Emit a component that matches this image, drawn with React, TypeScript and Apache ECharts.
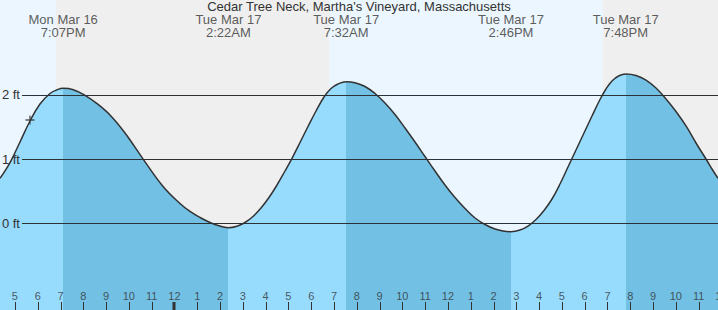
import { useEffect, useRef } from 'react';
import * as echarts from 'echarts';

const TITLE = "Cedar Tree Neck, Martha's Vineyard, Massachusetts";

// Time in hours since Mon Mar 16 00:00, tide height in feet
const tideHours = [
  16.345, 16.784, 17.223, 17.661, 18.1, 18.539, 18.846, 19.117,
  19.561, 20.075, 20.588, 21.172, 21.83, 22.633, 23.51, 24.243, 24.682, 25.121, 25.56, 25.911, 26.367,
  26.744, 27.095, 27.446, 27.797, 28.148, 28.5, 28.85, 29.158, 29.509, 29.86, 30.211, 30.562, 30.869, 31.176, 31.533,
  31.922, 32.361, 32.8, 33.238, 33.677, 34.116, 34.555, 34.993, 35.432, 35.871, 36.31, 36.749, 37.188, 37.626, 38.065, 38.416, 38.767,
  39.162, 39.513, 39.864, 40.216, 40.566, 40.917, 41.268, 41.619, 41.97, 42.321, 42.672, 42.935, 43.199, 43.506, 43.8,
  44.252, 44.691, 45.13, 45.569, 46.007, 46.446, 46.885, 47.324, 47.587, 47.85,
];
const tideFeet = [
  0.698, 0.945, 1.266, 1.594, 1.859, 2.023, 2.081, 2.105,
  2.083, 1.995, 1.87, 1.688, 1.406, 0.995, 0.567, 0.305, 0.18, 0.086, 0.008, -0.039, -0.073,
  -0.05, 0.008, 0.102, 0.234, 0.398, 0.594, 0.8125, 1.011, 1.258, 1.508, 1.75, 1.969, 2.102, 2.172, 2.208,
  2.191, 2.133, 2.023, 1.875, 1.695, 1.484, 1.266, 1.039, 0.8125, 0.594, 0.398, 0.227, 0.078, -0.023, -0.094, -0.125, -0.136,
  -0.109, -0.047, 0.055, 0.195, 0.375, 0.609, 0.875, 1.141, 1.406, 1.672, 1.93, 2.094, 2.219, 2.3, 2.328,
  2.305, 2.234, 2.109, 1.938, 1.742, 1.516, 1.25, 1.0, 0.844, 0.698,
];

const extremeHours = [19.117, 26.367, 31.533, 38.767, 43.8];
const extremeKinds = ['H', 'L', 'H', 'L', 'H'];
const extremeDays = ['Mon Mar 16', 'Tue Mar 17', 'Tue Mar 17', 'Tue Mar 17', 'Tue Mar 17'];
const extremeTimes = ['7:07PM', '2:22AM', '7:32AM', '2:46PM', '7:48PM'];

const nightStarts = [18.8, 42.8];
const nightEnds = [30.78, 48];

const hourTicks = [
  17, 18, 19, 20, 21, 22, 23, 24, 25, 26, 27, 28, 29, 30, 31, 32,
  33, 34, 35, 36, 37, 38, 39, 40, 41, 42, 43, 44, 45, 46, 47, 48,
];
const hourLabels = [
  '5', '6', '7', '8', '9', '10', '11', '12', '1', '2', '3', '4', '5', '6', '7', '8',
  '9', '10', '11', '12', '1', '2', '3', '4', '5', '6', '7', '8', '9', '10', '11', '12',
];
const midnightHours = [24, 48];
const gridLevels = [0, 1, 2];
const nowHour = 17.66;
const nowFeet = 1.61;

// view window
const X_MIN = 16.345;
const X_MAX = 47.85;
const Y_MIN = -1.359;
const Y_MAX = 3.484;
const GRID_START = 17.31;
const HEADER_Y = 3.078;
const HOUR_LABEL_Y = -1.133;
const TICK_FT = 0.125;

const FONT = 'Liberation Sans, Arial, sans-serif';
const TEXT = '#333333';
const RISE = '#97dcfd';
const FALL = '#72c0e4';
const DAY_BG = '#ecf6fe';
const NIGHT_BG = '#efefef';

export default function App() {
  const ref = useRef<HTMLDivElement>(null);
  useEffect(() => {
    if (!ref.current) return;
    const chart = echarts.init(ref.current, undefined, { renderer: 'svg' });

    const pieces: any[] = [];
    extremeHours.forEach((h, i) => {
      const before = extremeKinds[i] === 'H' ? RISE : FALL;
      if (i === 0) pieces.push({ lt: h, color: before });
      else pieces.push({ gte: extremeHours[i - 1], lt: h, color: before });
    });
    const lastKind = extremeKinds[extremeKinds.length - 1];
    pieces.push({ gte: extremeHours[extremeHours.length - 1], color: lastKind === 'H' ? FALL : RISE });

    const curve = tideHours.map((h, i) => [h, tideFeet[i]]);

    chart.setOption({
      animation: false,
      backgroundColor: DAY_BG,
      textStyle: { fontFamily: FONT },
      title: {
        text: TITLE,
        left: 'center',
        top: 0,
        padding: 0,
        textStyle: { fontSize: 13, fontWeight: 'normal', color: TEXT, fontFamily: FONT, lineHeight: 13 },
      },
      grid: { left: 0, right: 0, top: 0, bottom: 0 },
      xAxis: {
        type: 'value',
        min: X_MIN,
        max: X_MAX,
        show: false,
      },
      yAxis: {
        type: 'value',
        min: Y_MIN,
        max: Y_MAX,
        show: false,
      },
      visualMap: {
        type: 'piecewise',
        show: false,
        dimension: 0,
        seriesIndex: 2,
        pieces,
      },
      series: [
        {
          type: 'line',
          z: 0,
          data: [],
          silent: true,
          markArea: {
            silent: true,
            itemStyle: { color: NIGHT_BG },
            data: nightStarts.map((s, i) => [{ xAxis: s }, { xAxis: nightEnds[i] }]),
          },
        },
        {
          type: 'line',
          z: 1,
          data: [],
          silent: true,
          markLine: {
            silent: true,
            symbol: 'none',
            label: { show: false },
            lineStyle: { color: TEXT, width: 1, type: 'solid' },
            data: gridLevels.map((lv) => [{ coord: [GRID_START, lv] }, { coord: [X_MAX, lv] }]),
          },
        },
        {
          type: 'line',
          z: 2,
          data: curve,
          smooth: 0.4,
          showSymbol: false,
          silent: true,
          lineStyle: { color: TEXT, width: 1.5 },
          areaStyle: { opacity: 1, origin: 'start' },
        },
        {
          type: 'line',
          z: 3,
          data: [],
          silent: true,
          markLine: {
            silent: true,
            symbol: 'none',
            label: {
              show: true,
              position: 'start',
              distance: 2,
              formatter: '{b}',
              color: TEXT,
              fontSize: 13,
              fontFamily: FONT,
            },
            lineStyle: { color: 'rgba(0,40,80,0.13)', width: 1, type: 'solid' },
            data: gridLevels.map((lv) => [
              { name: `${lv} ft`, coord: [GRID_START, lv] },
              { coord: [X_MAX, lv] },
            ]),
          },
        },
        {
          type: 'custom',
          z: 4,
          silent: true,
          clip: false,
          data: hourTicks.map((h) => [h]),
          renderItem: (_params: any, api: any) => {
            const h = api.value(0);
            const p0 = api.coord([h, Y_MIN]);
            const p1 = api.coord([h, Y_MIN + TICK_FT]);
            const thick = midnightHours.includes(h);
            const x = thick ? Math.round(p0[0]) : Math.round(p0[0]) + 0.5;
            return {
              type: 'line',
              shape: { x1: x, y1: p0[1], x2: x, y2: p1[1] },
              style: { stroke: TEXT, lineWidth: thick ? 3 : 1 },
            };
          },
        },
        {
          type: 'scatter',
          z: 5,
          silent: true,
          clip: false,
          symbolSize: 1,
          itemStyle: { color: 'rgba(0,0,0,0)' },
          data: hourTicks.map((h) => [h, HOUR_LABEL_Y]),
          label: {
            show: true,
            position: 'inside',
            color: TEXT,
            fontSize: 11,
            fontFamily: FONT,
            formatter: (p: any) => hourLabels[p.dataIndex],
          },
        },
        {
          type: 'scatter',
          z: 5,
          silent: true,
          symbolSize: 1,
          itemStyle: { color: 'rgba(0,0,0,0)' },
          data: extremeHours.map((h) => [h, HEADER_Y]),
          label: {
            show: true,
            position: 'inside',
            color: TEXT,
            fontSize: 13,
            lineHeight: 13,
            fontFamily: FONT,
            formatter: (p: any) => `${extremeDays[p.dataIndex]}\n${extremeTimes[p.dataIndex]}`,
          },
        },
        {
          type: 'scatter',
          z: 6,
          silent: true,
          symbol: 'path://M4.25,0H5.75V4.25H10V5.75H5.75V10H4.25V5.75H0V4.25H4.25Z',
          symbolSize: 9,
          itemStyle: { color: TEXT },
          data: [[nowHour, nowFeet]],
        },
      ],
    });
    return () => chart.dispose();
  }, []);
  return (
    <div
      ref={ref}
      style={{ position: 'fixed', left: 0, top: 0, width: 718, height: 310 }}
    />
  );
}
